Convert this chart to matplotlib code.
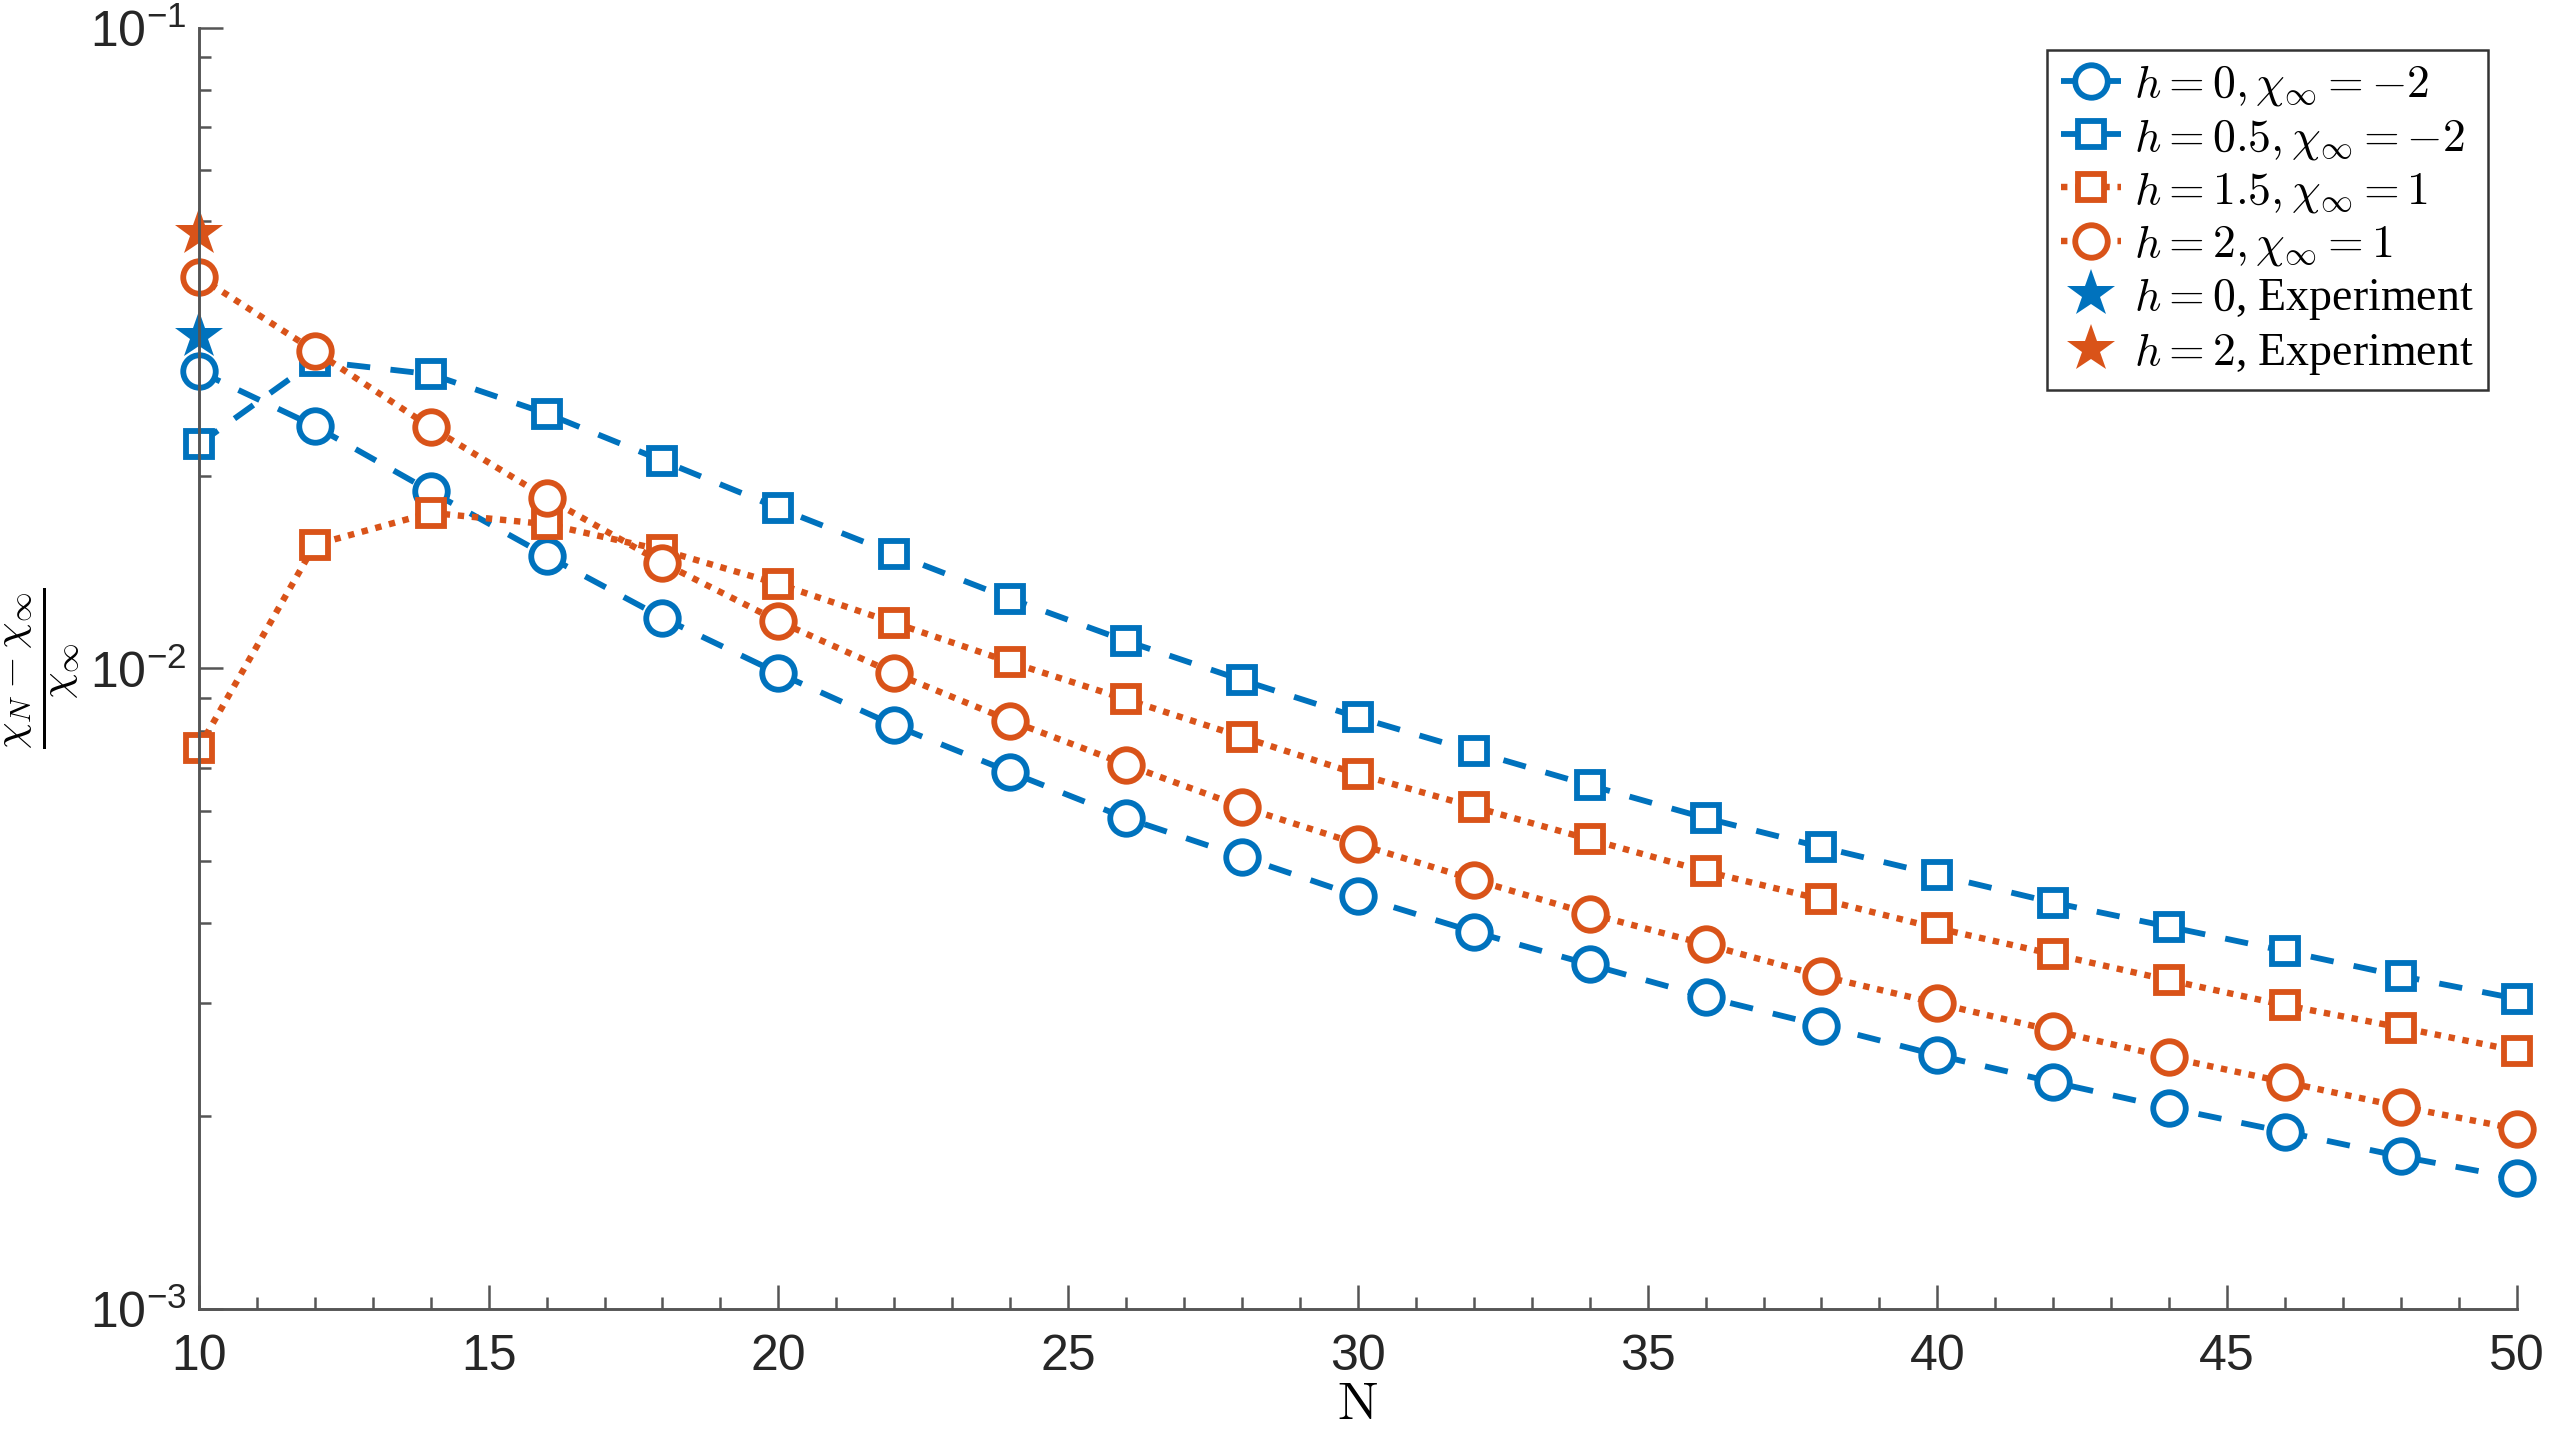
import numpy as np
import matplotlib
matplotlib.use("Agg")
import matplotlib.pyplot as plt
from matplotlib.ticker import FixedLocator, FixedFormatter, LogLocator, NullFormatter, MultipleLocator

plt.rcParams['font.family'] = ['Liberation Sans', 'DejaVu Sans']
plt.rcParams['mathtext.fontset'] = 'custom'
plt.rcParams['mathtext.rm'] = 'Liberation Sans'
plt.rcParams['mathtext.it'] = 'Liberation Sans:italic'

N = [10, 12, 14, 16, 18, 20, 22, 24, 26, 28, 30, 32, 34, 36, 38, 40, 42, 44, 46, 48, 50]

h0 = [0.0291, 0.0239, 0.0189, 0.0150, 0.0120, 0.00983, 0.00815, 0.00689, 0.00584, 0.00508,
      0.00441, 0.00388, 0.00345, 0.00307, 0.00277, 0.00249, 0.00226, 0.00206, 0.00189,
      0.00173, 0.00160]
h05 = [0.0224, 0.0302, 0.0288, 0.0250, 0.0211, 0.0178, 0.0151, 0.01285, 0.01104, 0.00959,
       0.00839, 0.00742, 0.00657, 0.00584, 0.00526, 0.00476, 0.00431, 0.00395, 0.00362,
       0.00331, 0.00305]
h15 = [0.00752, 0.0156, 0.0175, 0.0168, 0.0153, 0.01355, 0.01178, 0.01023, 0.00895, 0.00782,
       0.00684, 0.00608, 0.00541, 0.00482, 0.00436, 0.00393, 0.00358, 0.00326, 0.00298,
       0.00275, 0.00253]
h2 = [0.0409, 0.0313, 0.0238, 0.01847, 0.01462, 0.01185, 0.00983, 0.00829, 0.00708, 0.00608,
      0.00532, 0.00468, 0.00414, 0.00371, 0.00331, 0.00300, 0.00272, 0.00247, 0.00226,
      0.00207, 0.00191]
exp_N = [10]
exp_h0 = [0.0331]
exp_h2 = [0.0478]

labels = [r'$h=0, \chi_\infty=-2$', r'$h=0.5, \chi_\infty=-2$', r'$h=1.5, \chi_\infty=1$',
          r'$h=2, \chi_\infty=1$', r'$h=0$, Experiment', r'$h=2$, Experiment']

ytick_vals = [1e-3, 1e-2, 1e-1]
ytick_labels = [r'$\mathregular{10^{-3}}$', r'$\mathregular{10^{-2}}$', r'$\mathregular{10^{-1}}$']
xtick_vals = [10, 15, 20, 25, 30, 35, 40, 45, 50]

blue = '#0072BD'
orange = '#D95319'

fig = plt.figure(figsize=(8.5, 4.78), dpi=300)
ax = fig.add_axes([0.078, 0.0872, 0.909, 0.8933])

ms = 7.8
mss = 6.2
mew = 1.4
lw = 1.4
dash = (0, (4, 3.5))
dot = (0, (1, 1.2))
common = dict(mfc='white', mew=mew, clip_on=False)
ax.plot(N, h0, linestyle=dash, color=blue, marker='o', ms=ms, lw=lw, label=labels[0], **common)
ax.plot(N, h05, linestyle=dash, color=blue, marker='s', ms=mss, lw=lw, label=labels[1], **common)
ax.plot(N, h15, linestyle=dot, color=orange, marker='s', ms=mss, lw=lw * 1.1, label=labels[2], **common)
ax.plot(N, h2, linestyle=dot, color=orange, marker='o', ms=ms, lw=lw * 1.1, label=labels[3], **common)
ax.plot(exp_N, exp_h0, linestyle='none', color=blue, marker='*', ms=12, mew=0, label=labels[4], clip_on=False)
ax.plot(exp_N, exp_h2, linestyle='none', color=orange, marker='*', ms=12, mew=0, label=labels[5], clip_on=False)

ax.set_yscale('log')
ax.set_xlim(10, 50)
ax.set_ylim(1e-3, 1e-1)
ax.yaxis.set_major_locator(FixedLocator(ytick_vals))
ax.yaxis.set_major_formatter(FixedFormatter(ytick_labels))
ax.yaxis.set_minor_locator(LogLocator(base=10, subs=np.arange(2, 10)))
ax.yaxis.set_minor_formatter(NullFormatter())
ax.xaxis.set_major_locator(FixedLocator(xtick_vals))
ax.xaxis.set_minor_locator(MultipleLocator(1))

axcol = '#262626'
for s in ['top', 'right']:
    ax.spines[s].set_visible(False)
for s in ['left', 'bottom']:
    ax.spines[s].set_color('#555555')
    ax.spines[s].set_linewidth(0.7)
ax.tick_params(which='both', direction='in', colors='#555555', labelcolor=axcol, width=0.6)
ax.tick_params(which='major', length=5.8, labelsize=12)
ax.tick_params(which='minor', length=2.9)
ax.tick_params(axis='x', pad=6)
ax.tick_params(axis='y', pad=3)

ax.set_xlabel(r'$\mathrm{N}$', fontsize=13, math_fontfamily='cm', color='black', labelpad=0)
ax.set_ylabel(r'$\frac{\chi_N-\chi_\infty}{\chi_\infty}$', fontsize=14.5, math_fontfamily='cm', color='black')
ax.yaxis.set_label_coords(-0.051, 0.5)

leg = ax.legend(loc='upper right', bbox_to_anchor=(0.9875, 0.983), fontsize=11, frameon=True, fancybox=False,
                edgecolor='#333333', framealpha=1, handlelength=1.3, handletextpad=0.3,
                labelspacing=0.18, borderpad=0.3, borderaxespad=0.0)
leg.get_frame().set_linewidth(0.6)
for t in leg.get_texts():
    t.set_math_fontfamily('cm')
    t.set_fontfamily('Liberation Serif')

fig.savefig('out.png', dpi=300)
